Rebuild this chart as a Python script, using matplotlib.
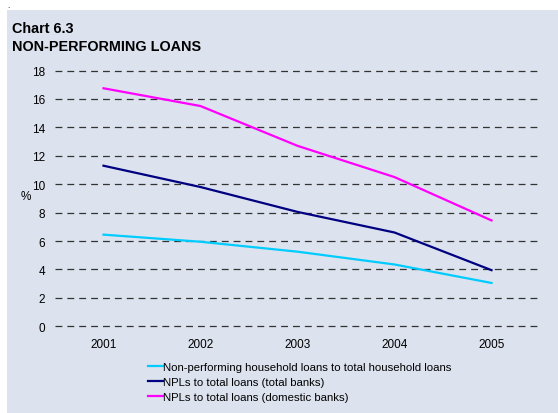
import matplotlib
matplotlib.use("Agg")
import matplotlib.pyplot as plt
from matplotlib.patches import Rectangle

plt.rcParams['font.family'] = ['Liberation Sans', 'DejaVu Sans']

# datos
anios = [2001, 2002, 2003, 2004, 2005]
hogares = [6.45, 5.95, 5.25, 4.35, 3.05]
total_bancos = [11.3, 9.8, 8.05, 6.6, 3.95]
bancos_domesticos = [16.75, 15.5, 12.7, 10.5, 7.45]
etiquetas = ['Non-performing household loans to total household loans',
             'NPLs to total loans (total banks)',
             'NPLs to total loans (domestic banks)']
yticks = list(range(0, 19, 2))

W, H = 558, 414
fig = plt.figure(figsize=(W / 100, H / 100), dpi=100)
fig.patch.set_facecolor('white')

# panel de fondo
fondo = Rectangle((7 / W, 0), 1, 1 - 11 / H, transform=fig.transFigure,
                  facecolor='#DCE2EE', edgecolor='none', zorder=-10)
fig.add_artist(fondo)
fig.text(7 / W, 1 - 6 / H, '.', fontsize=6, va='center', ha='left')

fig.text(12 / W, 1 - 29 / H, 'Chart 6.3', fontsize=10.4, fontweight='bold', va='center')
fig.text(12 / W, 1 - 47 / H, 'NON-PERFORMING LOANS', fontsize=10.4, fontweight='bold', va='center')

ax = fig.add_axes([55 / W, (H - 334.4) / H, 485 / W, 270 / H])
ax.set_facecolor('none')
for s in ax.spines.values():
    s.set_visible(False)

for y in yticks:
    ax.axhline(y, color='#333333', linewidth=0.9, dashes=(5.5, 4), zorder=1)

ax.plot(anios, hogares, color='#00CCFF', linewidth=1.6, label=etiquetas[0], zorder=3)
ax.plot(anios, total_bancos, color='#000080', linewidth=1.6, label=etiquetas[1], zorder=3)
ax.plot(anios, bancos_domesticos, color='#FF00FF', linewidth=1.6, label=etiquetas[2], zorder=3)

ax.set_xlim(2000.5, 2005.5)
ax.set_ylim(-0.5, 18.5)
ax.set_xticks(anios)
ax.set_yticks(yticks)
ax.tick_params(axis='both', length=0, labelsize=8.5)
ax.tick_params(axis='y', pad=7)
ax.tick_params(axis='x', pad=3.5)

fig.text(26 / W, 1 - 197 / H, '%', fontsize=8.5, va='center', ha='center')

ax.legend(loc='upper left', bbox_to_anchor=(148 / W, 1 - 363 / H),
          bbox_transform=fig.transFigure, frameon=False, fontsize=8.2,
          handlelength=1.3, handletextpad=0.0, borderpad=0, borderaxespad=0,
          labelspacing=0.45)

fig.savefig('out.png', dpi=100)
